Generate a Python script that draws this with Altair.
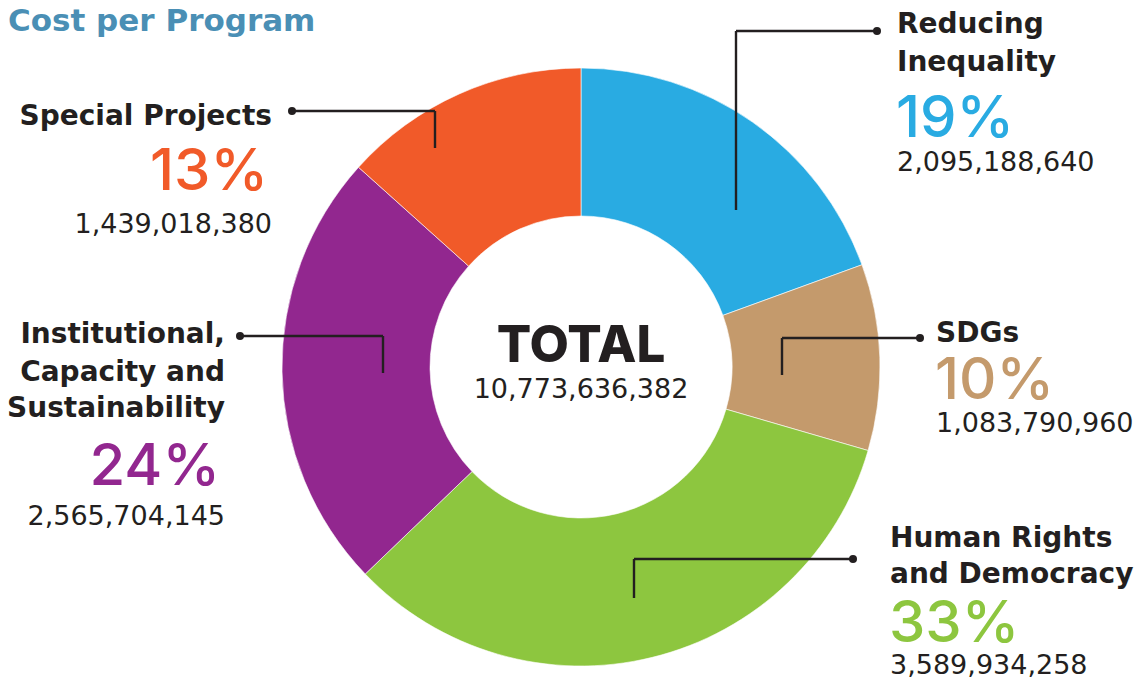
import altair as alt
import pandas as pd

# ---------------- data ----------------
categories = ["Reducing Inequality", "SDGs", "Human Rights and Democracy",
              "Institutional, Capacity and Sustainability", "Special Projects"]
amounts = [2095188640, 1083790960, 3589934258, 2565704145, 1439018380]
percent_labels = ["19%", "10%", "33%", "24%", "13%"]
amount_labels = ["2,095,188,640", "1,083,790,960", "3,589,934,258",
                 "2,565,704,145", "1,439,018,380"]
name_lines = [["Reducing", "Inequality"], ["SDGs"], ["Human Rights", "and Democracy"],
              ["Institutional,", "Capacity and", "Sustainability"], ["Special Projects"]]
colors = ["#29ABE2", "#C49A6C", "#8DC63F", "#92278F", "#F15A29"]
total_title = "TOTAL"
total_label = "10,773,636,382"
chart_title = "Cost per Program"

# ---------------- layout (page pixel coordinates) ----------------
OFF = 8
W, H = 1147 - 2 * OFF, 687 - 2 * OFF
CX, CY = 581, 367
R_OUT, R_IN = 299, 151
INK = "#231F20"

layout = [
    dict(x=897, align="left", name_y=[33, 71], pct_x=896, pct_y=137, amt_y=171,
         dot=(877, 31), elbow=(736, 31), end=(736, 210)),
    dict(x=936, align="left", name_y=[342], pct_x=935, pct_y=399, amt_y=432,
         dot=(920, 338), elbow=(782, 338), end=(782, 375)),
    dict(x=890, align="left", name_y=[547, 583], pct_x=889, pct_y=642, amt_y=674,
         dot=(853, 559), elbow=(634, 559), end=(634, 598)),
    dict(x=225, align="right", name_y=[343, 381, 417], pct_x=220, pct_y=485, amt_y=525,
         dot=(240, 336), elbow=(383, 336), end=(383, 373)),
    dict(x=272, align="right", name_y=[125], pct_x=268, pct_y=190, amt_y=233,
         dot=(292, 111), elbow=(435, 111), end=(435, 148)),
]

# ---------------- tables ----------------
arc_df = pd.DataFrame({"category": categories, "amount": amounts,
                       "color": colors, "order": list(range(len(categories)))})

name_rows, pct_rows, amt_rows, seg_rows, dot_rows = [], [], [], [], []
for i, lay in enumerate(layout):
    for line, yy in zip(name_lines[i], lay["name_y"]):
        name_rows.append(dict(t=line, x=lay["x"] - OFF, y=yy - OFF, align=lay["align"]))
    pct_rows.append(dict(t=percent_labels[i], x=lay["pct_x"] - OFF, y=lay["pct_y"] - OFF,
                         align=lay["align"], color=colors[i]))
    amt_rows.append(dict(t=amount_labels[i], x=lay["x"] - OFF, y=lay["amt_y"] - OFF,
                         align=lay["align"]))
    (dx, dy), (ex, ey), (fx, fy) = lay["dot"], lay["elbow"], lay["end"]
    seg_rows.append(dict(x=dx - OFF, y=dy - OFF, x2=ex - OFF, y2=ey - OFF))
    seg_rows.append(dict(x=ex - OFF, y=ey - OFF, x2=fx - OFF, y2=fy - OFF))
    dot_rows.append(dict(x=dx - OFF, y=dy - OFF))

name_df = pd.DataFrame(name_rows)
pct_df = pd.DataFrame(pct_rows)
amt_df = pd.DataFrame(amt_rows)
seg_df = pd.DataFrame(seg_rows)
dot_df = pd.DataFrame(dot_rows)

# ---------------- marks ----------------
arc = alt.Chart(arc_df).mark_arc(innerRadius=R_IN, outerRadius=R_OUT,
                                 stroke="white", strokeWidth=0.6).encode(
    theta=alt.Theta("amount:Q", stack=True),
    order=alt.Order("order:Q"),
    color=alt.Color("color:N", scale=None),
    x=alt.value(CX - OFF), y=alt.value(CY - OFF),
)

segs = alt.Chart(seg_df).mark_rule(color=INK, strokeWidth=2.4).encode(
    x=alt.X("x:Q", scale=None), y=alt.Y("y:Q", scale=None),
    x2="x2:Q", y2="y2:Q")

dots = alt.Chart(dot_df).mark_circle(color=INK, opacity=1, size=64).encode(
    x=alt.X("x:Q", scale=None), y=alt.Y("y:Q", scale=None))


def text_layer(df, align, font, size, weight, color=None):
    sub = df[df["align"] == align]
    enc = dict(x=alt.X("x:Q", scale=None), y=alt.Y("y:Q", scale=None), text="t:N")
    kw = dict(align=align, baseline="alphabetic", font=font, fontSize=size,
              fontWeight=weight)
    if color is None:
        enc["color"] = alt.Color("color:N", scale=None)
    else:
        kw["color"] = color
    return alt.Chart(sub).mark_text(**kw).encode(**enc)


layers = [arc, segs, dots]
for al in ["left", "right"]:
    layers.append(text_layer(name_df, al, "DejaVu Sans", 28, "bold", INK))
    layers.append(text_layer(pct_df, al, "Inter", 58, 500))
    layers.append(text_layer(amt_df, al, "DejaVu Sans", 27, "normal", INK))

center_df = pd.DataFrame({"t": [total_title, total_label],
                          "y": [362 - OFF, 398 - OFF],
                          "x": [CX - OFF, CX - OFF]})
total_big = alt.Chart(center_df.iloc[[0]]).mark_text(
    align="center", baseline="alphabetic", font="Inter", fontSize=51,
    fontWeight=800, color=INK).encode(
    x=alt.X("x:Q", scale=None), y=alt.Y("y:Q", scale=None), text="t:N")
total_small = alt.Chart(center_df.iloc[[1]]).mark_text(
    align="center", baseline="alphabetic", font="DejaVu Sans", fontSize=27,
    color=INK).encode(
    x=alt.X("x:Q", scale=None), y=alt.Y("y:Q", scale=None), text="t:N")

title_df = pd.DataFrame({"t": [chart_title], "x": [8 - OFF], "y": [31 - OFF]})
title = alt.Chart(title_df).mark_text(
    align="left", baseline="alphabetic", font="DejaVu Sans", fontSize=31,
    fontWeight="bold", color="#4A8FB5").encode(
    x=alt.X("x:Q", scale=None), y=alt.Y("y:Q", scale=None), text="t:N")

layers += [total_big, total_small, title]

chart = alt.layer(*layers).properties(
    width=W, height=H, padding=0,
    autosize=alt.AutoSizeParams(type="none"),
    background="white",
).configure_view(stroke=None)

chart.save("out.html", embed_options={"renderer": "svg", "actions": False})
